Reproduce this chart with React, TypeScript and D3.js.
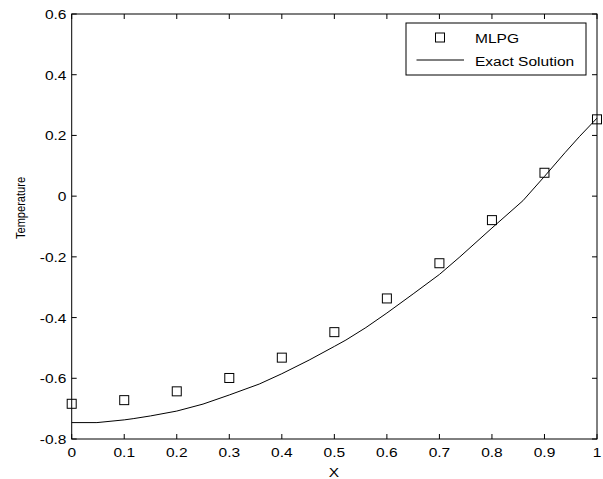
import React from "react";
import * as d3 from "d3";

const mlpgX = [0, 0.1, 0.2, 0.3, 0.4, 0.5, 0.6, 0.7, 0.8, 0.9, 1.0];
const mlpgY = [-0.684, -0.672, -0.643, -0.599, -0.532, -0.448, -0.337, -0.221, -0.079, 0.077, 0.253];

const exactX = [0, 0.048, 0.1, 0.117, 0.15, 0.2, 0.25, 0.3, 0.33, 0.357, 0.4, 0.452, 0.5, 0.522, 0.56, 0.6, 0.65, 0.7, 0.739, 0.8, 0.859, 0.9, 0.939, 0.967, 1.0];
const exactY = [-0.746, -0.746, -0.737, -0.733, -0.724, -0.708, -0.685, -0.655, -0.636, -0.619, -0.585, -0.540, -0.495, -0.474, -0.433, -0.385, -0.322, -0.258, -0.200, -0.105, -0.015, 0.065, 0.143, 0.197, 0.257];

const xTicks = [0, 0.1, 0.2, 0.3, 0.4, 0.5, 0.6, 0.7, 0.8, 0.9, 1];
const yTicks = [-0.8, -0.6, -0.4, -0.2, 0, 0.2, 0.4, 0.6];

const W = 603, H = 479;
const L = 71.7, R = 597, T = 14, B = 439;
const font = "Liberation Sans, Arial, sans-serif";
const FS = 13.5;
const SX = 1.15;

function HText({ x, y, anchor, children }: { x: number; y: number; anchor: string; children: React.ReactNode }) {
  return (
    <text transform={`translate(${x},${y}) scale(${SX},1)`} textAnchor={anchor} fontFamily={font} fontSize={FS}>
      {children}
    </text>
  );
}

export default function App() {
  const x = d3.scaleLinear().domain([0, 1]).range([L, R]);
  const y = d3.scaleLinear().domain([-0.8, 0.6]).range([B, T]);
  const line = d3.line<number>().x((_, i) => x(exactX[i])).y((d) => y(d));
  const fmt = (v: number) => {
    const r = Math.round(v * 10) / 10;
    return r === 0 ? "0" : String(r);
  };
  const tl = 5;
  const ms = 9;
  return (
    <svg width={W} height={H} style={{ position: "absolute", left: 0, top: 0, background: "#fff" }}>
      <rect x={0} y={0} width={W} height={H} fill="#fff" />
      <path d={line(exactY) || ""} fill="none" stroke="#000" strokeWidth={1} />
      {mlpgY.map((v, i) => (
        <rect key={i} x={x(mlpgX[i]) - ms / 2} y={y(v) - ms / 2} width={ms} height={ms} fill="none" stroke="#000" strokeWidth={1} />
      ))}
      {xTicks.map((t, i) => (
        <g key={"xt" + i}>
          <line x1={x(t)} x2={x(t)} y1={B} y2={B - tl} stroke="#000" />
          <line x1={x(t)} x2={x(t)} y1={T} y2={T + tl} stroke="#000" />
          <HText x={x(t)} y={457} anchor="middle">{fmt(t)}</HText>
        </g>
      ))}
      {yTicks.map((t, i) => (
        <g key={"yt" + i}>
          <line x1={L} x2={L + tl} y1={y(t)} y2={y(t)} stroke="#000" />
          <line x1={R} x2={R - tl} y1={y(t)} y2={y(t)} stroke="#000" />
          <HText x={66.5} y={y(t) + 5} anchor="end">{fmt(t)}</HText>
        </g>
      ))}
      <rect x={L} y={T} width={R - L} height={B - T} fill="none" stroke="#000" strokeWidth={1} />
      <HText x={334} y={477} anchor="middle">X</HText>
      <text transform="translate(25,208) rotate(-90) scale(0.82,1)" textAnchor="middle" fontFamily={font} fontSize={13.5}>Temperature</text>
      <rect x={406} y={23} width={180} height={52} fill="#fff" stroke="#000" strokeWidth={1} />
      <rect x={440 - 4.5} y={37.5 - 4.5} width={ms} height={ms} fill="none" stroke="#000" strokeWidth={1} />
      <line x1={416.5} x2={464} y1={60} y2={60} stroke="#000" strokeWidth={1} />
      <HText x={475} y={43} anchor="start">MLPG</HText>
      <HText x={475} y={66} anchor="start">Exact Solution</HText>
    </svg>
  );
}
